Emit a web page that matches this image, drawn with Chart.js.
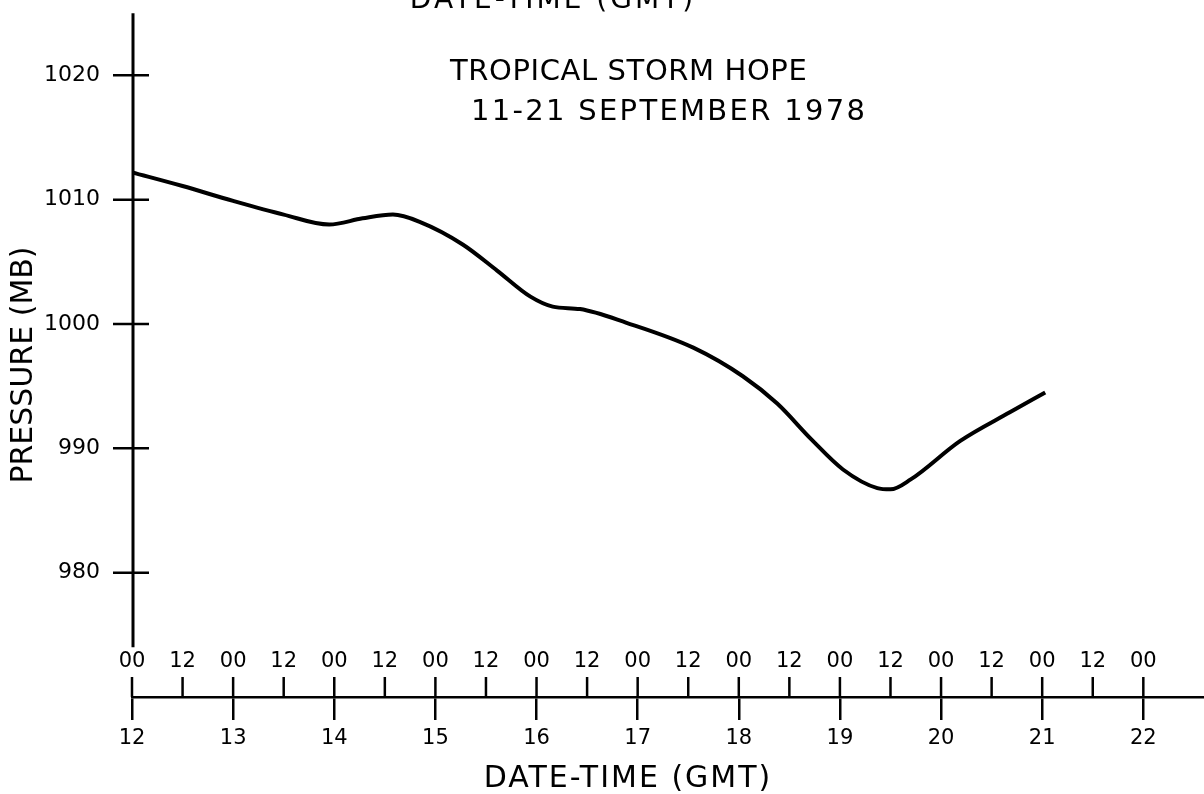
<!DOCTYPE html>
<html><head><meta charset="utf-8">
<script src="https://cdn.jsdelivr.net/npm/chart.js@4.4.1/dist/chart.umd.min.js"></script>
<style>html,body{margin:0;padding:0;background:#fff;}canvas{display:block;}</style>
</head><body>
<canvas id="c" width="1204" height="794"></canvas>
<script>
// Date-time in days of September 1978 (GMT)
const dayTimes = [12.0, 12.5, 13.0, 13.5, 13.95, 14.28, 14.58, 14.85, 15.27, 15.61, 15.94, 16.16, 16.43, 16.89, 17.55, 18.04, 18.38, 18.72, 19.03, 19.37, 19.50, 19.70, 20.19, 20.68, 21.03];
// Minimum sea-level pressure (mb)
const pressures = [1012.2, 1011.1, 1009.9, 1008.8, 1008.0, 1008.5, 1008.8, 1008.2, 1006.4, 1004.3, 1002.2, 1001.4, 1001.2, 1000.1, 998.1, 995.8, 993.6, 990.7, 988.3, 986.8, 986.7, 987.5, 990.6, 992.9, 994.5];
const yTickValues = [980, 990, 1000, 1010, 1020];
const xTickValues = [12, 12.5, 13, 13.5, 14, 14.5, 15, 15.5, 16, 16.5, 17, 17.5, 18, 18.5, 19, 19.5, 20, 20.5, 21, 21.5, 22];
const hourLabels = ['00', '12'];
const titleLines = ['TROPICAL STORM HOPE', '11-21 SEPTEMBER 1978'];
const topCutText = 'DATE-TIME (GMT)';
const xTitle = 'DATE-TIME (GMT)';
const yTitle = 'PRESSURE (MB)';

const FONT = "'DejaVu Sans', 'Liberation Sans', sans-serif";
const INK = '#000';

const drawPlugin = {
  id: 'handAxes',
  afterDraw(chart) {
    const ctx = chart.ctx;
    const xs = chart.scales.x, ys = chart.scales.y;
    const x0 = xs.getPixelForValue(12);
    ctx.save();
    ctx.strokeStyle = INK;
    ctx.fillStyle = INK;
    ctx.lineCap = 'butt';
    // vertical axis line
    ctx.lineWidth = 3;
    ctx.beginPath();
    ctx.moveTo(x0 + 1, ys.getPixelForValue(1025));
    ctx.lineTo(x0 + 1, ys.getPixelForValue(974));
    ctx.stroke();
    // y tick marks crossing the axis
    ctx.lineWidth = 2.5;
    ys.ticks.forEach(t => {
      const py = ys.getPixelForValue(t.value);
      ctx.beginPath();
      ctx.moveTo(x0 - 19, py);
      ctx.lineTo(x0 + 17, py);
      ctx.stroke();
    });
    // upward ticks and hour labels above x axis
    ctx.font = '21px ' + FONT;
    ctx.textAlign = 'center';
    ctx.textBaseline = 'middle';
    xs.ticks.forEach(t => {
      const px = xs.getPixelForValue(t.value);
      ctx.beginPath();
      ctx.moveTo(px, xs.top - 20);
      ctx.lineTo(px, xs.top);
      ctx.stroke();
      const isDay = Math.abs(t.value - Math.round(t.value)) < 1e-6;
      ctx.fillText(isDay ? hourLabels[0] : hourLabels[1], px, xs.top - 35);
    });
    // chart titles
    ctx.textAlign = 'left';
    ctx.textBaseline = 'alphabetic';
    ctx.font = '29px ' + FONT;
    ctx.letterSpacing = '0.6px';
    ctx.fillText(titleLines[0], 450, 80);
    ctx.letterSpacing = '2.3px';
    ctx.fillText(titleLines[1], 471, 120);
    // top (cut) axis caption
    ctx.textAlign = 'center';
    ctx.font = '28px ' + FONT;
    ctx.letterSpacing = '3px';
    ctx.fillText(topCutText, 553, 8);
    // x axis title
    ctx.font = '30px ' + FONT;
    ctx.letterSpacing = '2px';
    ctx.textBaseline = 'middle';
    ctx.fillText(xTitle, 628, 779);
    // y axis title
    ctx.letterSpacing = '0px';
    ctx.translate(24, 365);
    ctx.rotate(-Math.PI / 2);
    ctx.fillText(yTitle, 0, 0);
    ctx.restore();
  }
};

new Chart(document.getElementById('c'), {
  type: 'line',
  data: {
    datasets: [{
      data: dayTimes.map((d, i) => ({x: d, y: pressures[i]})),
      borderColor: INK,
      borderWidth: 4,
      pointRadius: 0,
      fill: false,
      cubicInterpolationMode: 'monotone'
    }]
  },
  options: {
    responsive: false,
    animation: false,
    devicePixelRatio: 1,
    layout: {padding: {top: 0, right: 0, bottom: 0, left: 0}},
    plugins: {legend: {display: false}, tooltip: {enabled: false}},
    scales: {
      x: {
        type: 'linear',
        min: 12,
        max: 22.6,
        afterFit: s => { s.height = 97; },
        afterBuildTicks: s => { s.ticks = xTickValues.map(v => ({value: v})); },
        border: {display: true, color: INK, width: 2.5},
        grid: {
          display: true,
          drawOnChartArea: false,
          drawTicks: true,
          tickLength: 23,
          lineWidth: 2.5,
          color: c => (c.tick && Math.abs(c.tick.value - Math.round(c.tick.value)) < 1e-6) ? INK : 'rgba(0,0,0,0)'
        },
        ticks: {
          autoSkip: false,
          maxRotation: 0,
          padding: 6,
          color: INK,
          font: {family: FONT, size: 21},
          callback: v => Math.abs(v - Math.round(v)) < 1e-6 ? String(Math.round(v)) : ''
        },
        title: {display: false, text: xTitle}
      },
      y: {
        type: 'linear',
        min: 970,
        max: 1025,
        afterFit: s => { s.width = 132; },
        afterBuildTicks: s => { s.ticks = yTickValues.map(v => ({value: v})); },
        border: {display: false},
        grid: {
          display: true,
          drawOnChartArea: false,
          drawTicks: true,
          tickLength: 32,
          color: 'rgba(0,0,0,0)'
        },
        ticks: {
          padding: 0,
          color: INK,
          font: {family: FONT, size: 22},
          callback: v => String(v)
        },
        title: {display: false, text: yTitle}
      }
    }
  },
  plugins: [drawPlugin]
});
</script>
</body></html>
